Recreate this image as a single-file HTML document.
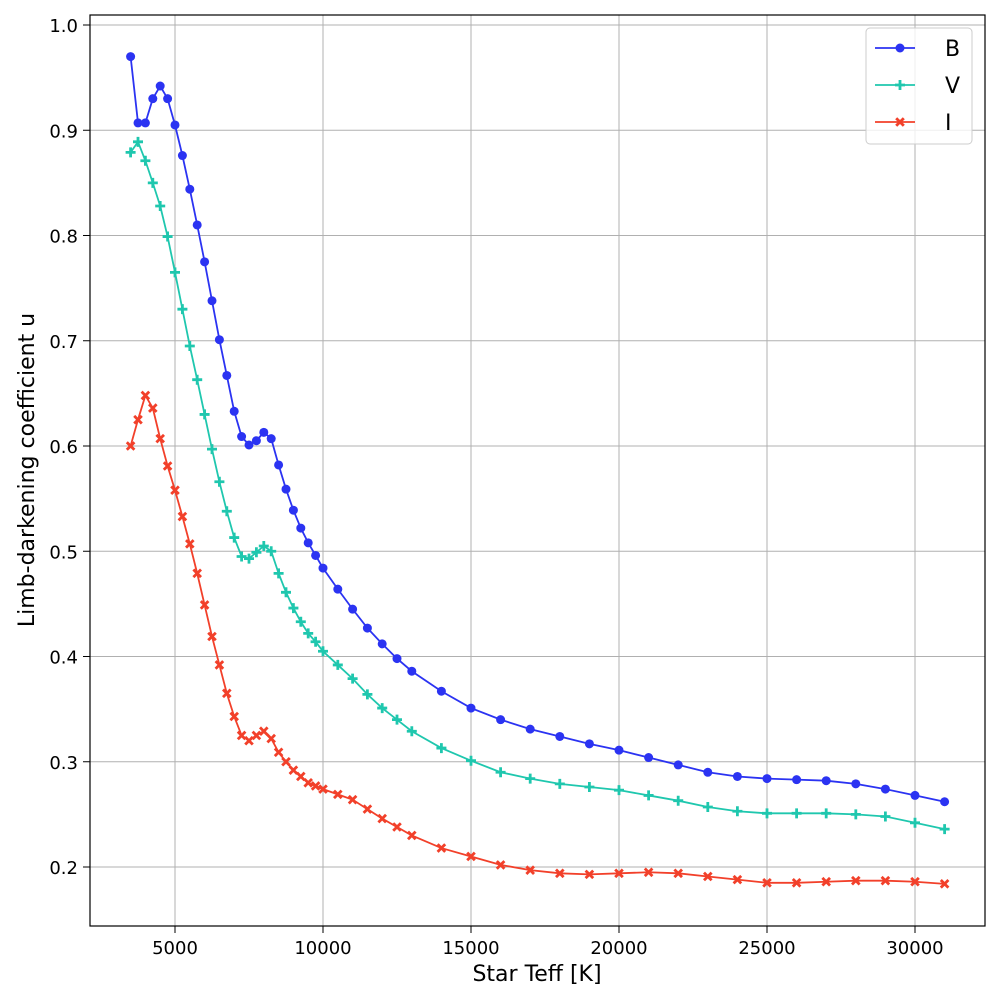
<!DOCTYPE html>
<html><head><meta charset="utf-8"><style>
body{margin:0;background:#fff;font-family:"DejaVu Sans","Liberation Sans",sans-serif}
svg text{font-family:"DejaVu Sans","Liberation Sans",sans-serif}
</style></head><body>
<svg id="chart" width="1000" height="1000" viewBox="0 0 1000 1000" xmlns="http://www.w3.org/2000/svg">
<rect width="1000" height="1000" fill="#fff"/>
<g id="grid"></g>
<g id="series"></g>
<rect x="90" y="15" width="895" height="911" fill="none" stroke="#000" stroke-width="1.2"/>
<g id="ticks"></g>
<text x="537" y="981" font-size="22" text-anchor="middle">Star Teff [K]</text>
<text transform="translate(34,470) rotate(-90)" font-size="22" text-anchor="middle">Limb-darkening coefficient u</text>
<g id="legend">
<rect x="866" y="28" width="106" height="116" rx="4" fill="#fff" fill-opacity="0.8" stroke="#ccc"/>
</g>
</svg>
<script>
const teff=[3500,3750,4000,4250,4500,4750,5000,5250,5500,5750,6000,6250,6500,6750,7000,7250,7500,7750,8000,8250,8500,8750,9000,9250,9500,9750,10000,10500,11000,11500,12000,12500,13000,14000,15000,16000,17000,18000,19000,20000,21000,22000,23000,24000,25000,26000,27000,28000,29000,30000,31000];
const uB=[0.970,0.907,0.907,0.930,0.942,0.930,0.905,0.876,0.844,0.810,0.775,0.738,0.701,0.667,0.633,0.609,0.601,0.605,0.613,0.607,0.582,0.559,0.539,0.522,0.508,0.496,0.484,0.464,0.445,0.427,0.412,0.398,0.386,0.367,0.351,0.340,0.331,0.324,0.317,0.311,0.304,0.297,0.290,0.286,0.284,0.283,0.282,0.279,0.274,0.268,0.262];
const uV=[0.879,0.889,0.871,0.850,0.828,0.799,0.765,0.730,0.695,0.663,0.630,0.597,0.566,0.538,0.513,0.495,0.493,0.499,0.505,0.500,0.479,0.461,0.446,0.433,0.422,0.414,0.405,0.392,0.379,0.364,0.351,0.340,0.329,0.313,0.301,0.290,0.284,0.279,0.276,0.273,0.268,0.263,0.257,0.253,0.251,0.251,0.251,0.250,0.248,0.242,0.236];
const uI=[0.600,0.625,0.648,0.636,0.607,0.581,0.558,0.533,0.507,0.479,0.449,0.419,0.392,0.365,0.343,0.325,0.320,0.325,0.329,0.322,0.309,0.300,0.292,0.286,0.280,0.277,0.274,0.269,0.264,0.255,0.246,0.238,0.230,0.218,0.210,0.202,0.197,0.194,0.193,0.194,0.195,0.194,0.191,0.188,0.185,0.185,0.186,0.187,0.187,0.186,0.184];
const xTicks=[5000,10000,15000,20000,25000,30000];
const yTicks=[0.2,0.3,0.4,0.5,0.6,0.7,0.8,0.9,1.0];
const bands=["B","V","I"];
const NS="http://www.w3.org/2000/svg";
const X=v=>175+(v-5000)*0.0296;
const Y=v=>867-(v-0.2)*1052.5;
function mk(tag,attrs,parent){const e=document.createElementNS(NS,tag);for(const k in attrs)e.setAttribute(k,attrs[k]);parent.appendChild(e);return e;}
const grid=document.getElementById('grid'),ticks=document.getElementById('ticks'),ser=document.getElementById('series'),leg=document.getElementById('legend');
xTicks.forEach(t=>{const x=X(t);
 const l=mk('line',{x1:x,x2:x,y1:15,y2:926,stroke:'#b0b0b0','stroke-width':1},grid);
 
 
 const tk=mk('line',{x1:x,x2:x,y1:926,y2:933,stroke:'#000'},ticks);
 
 
 const tx=mk('text',{x:x,y:954,'font-size':18,'text-anchor':'middle'},ticks);tx.textContent=t;
 
 
});
yTicks.forEach(t=>{const y=Y(t);
 const l=mk('line',{x1:90,x2:985,y1:y,y2:y,stroke:'#b0b0b0','stroke-width':1},grid);
 
 
 const tk=mk('line',{x1:83,x2:90,y1:y,y2:y,stroke:'#000'},ticks);
 
 
 const tx=mk('text',{x:78,y:y+7,'font-size':18,'text-anchor':'end'},ticks);tx.textContent=t.toFixed(1);
 
 
});
const colors=['#2b33f2','#1fc7ae','#f2402a'];
function marker(kind,x,y,c,parent){
 let e;
 if(kind==0)e=mk('circle',{cx:x,cy:y,r:4.5,fill:c},parent);
 else if(kind==1)e=mk('path',{d:`M${x-5},${y}H${x+5}M${x},${y-5}V${y+5}`,stroke:c,'stroke-width':2.8,fill:'none'},parent);
 else{const s=4.8,w=2;e=mk('path',{d:`M${x-s},${y-s+w}L${x-s+w},${y-s}L${x},${y-w}L${x+s-w},${y-s}L${x+s},${y-s+w}L${x+w},${y}L${x+s},${y+s-w}L${x+s-w},${y+s}L${x},${y+w}L${x-s+w},${y+s}L${x-s},${y+s-w}L${x-w},${y}Z`,fill:c},parent);}
 return e;
}
[uB,uV,uI].forEach((arr,k)=>{
 const g=mk('g',{},ser);
 
 
 const p=mk('polyline',{points:teff.map((t,i)=>X(t)+','+Y(arr[i])).join(' '),fill:'none',stroke:colors[k],'stroke-width':1.8},g);
 
 
 teff.forEach((t,i)=>{const m=marker(k,X(t),Y(arr[i]),colors[k],g);
  
  });
 const y=48+k*37;
 const le=mk('g',{},leg);
 
 
 mk('line',{x1:875,x2:915,y1:y,y2:y,stroke:colors[k],'stroke-width':1.8},le);
 marker(k,900,y,colors[k],le);
 const tx=mk('text',{x:945,y:y+8,'font-size':22},le);tx.textContent=bands[k];
});
</script>
</body></html>
